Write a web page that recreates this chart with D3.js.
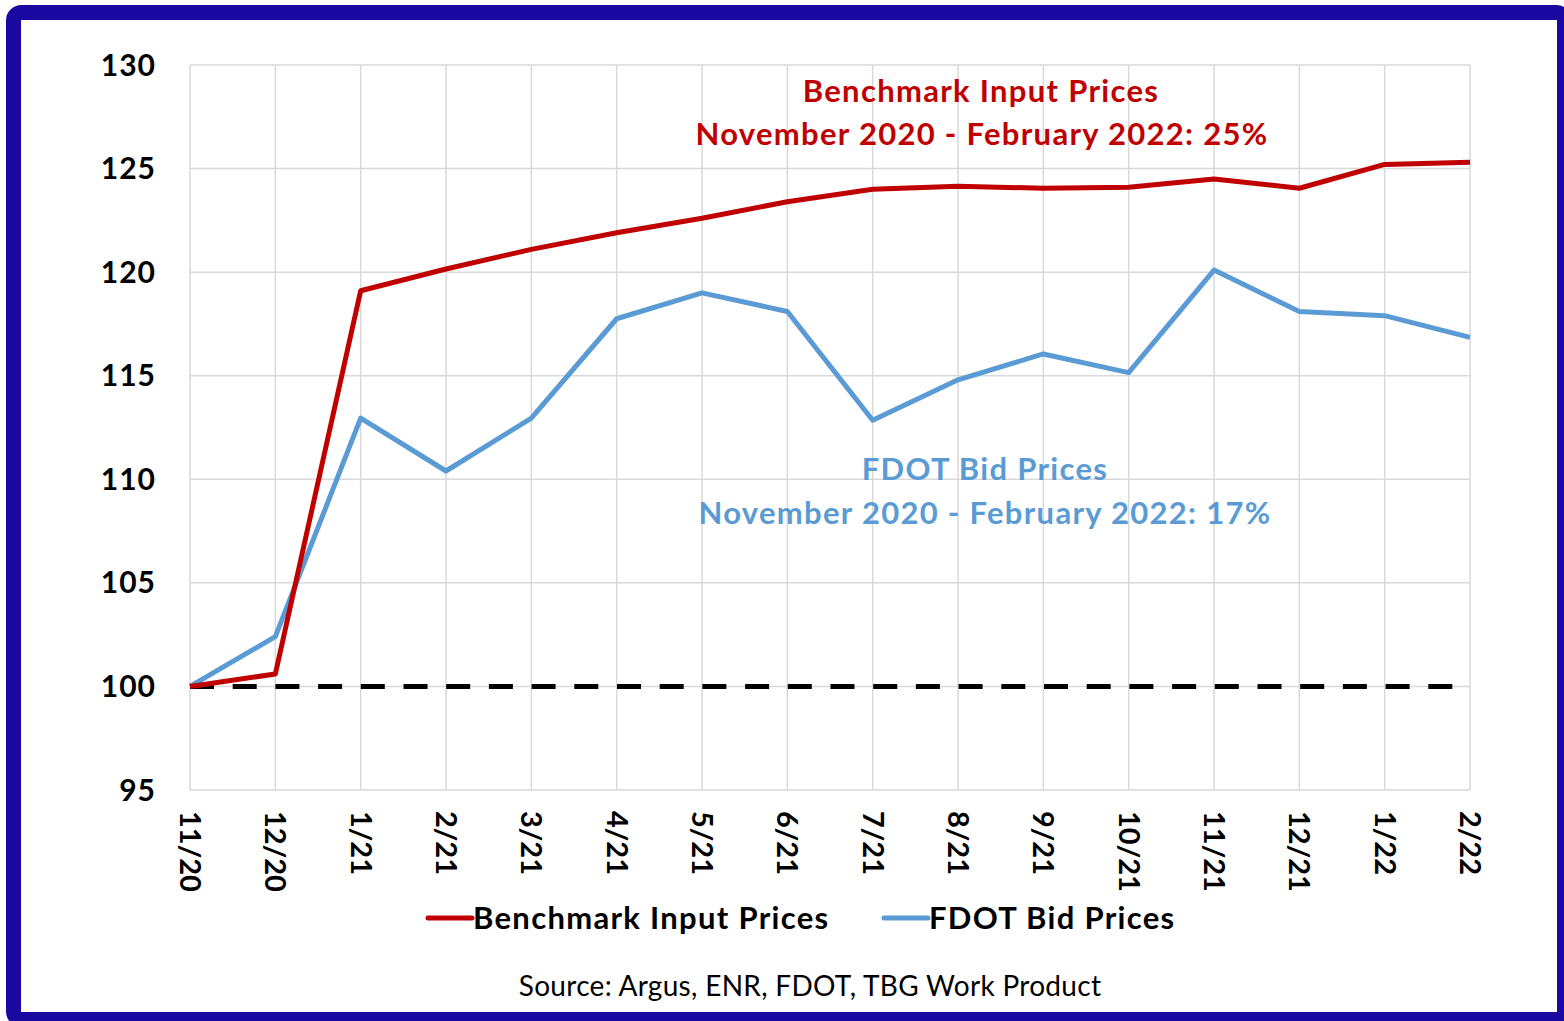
<!DOCTYPE html>
<html>
<head>
<meta charset="utf-8">
<script src="https://cdn.jsdelivr.net/npm/d3@7"></script>
<style>
  html, body { margin: 0; padding: 0; background: #fff; }
  svg { display: block; }
  text { font-family: Lato, "Open Sans", sans-serif; }
</style>
</head>
<body>
<svg id="chart" width="1564" height="1021"></svg>
<script>
// data
var months = ["11/20","12/20","1/21","2/21","3/21","4/21","5/21","6/21","7/21","8/21","9/21","10/21","11/21","12/21","1/22","2/22"];
var benchmark = [100, 100.6, 119.1, 120.15, 121.1, 121.9, 122.6, 123.4, 124.0, 124.15, 124.05, 124.1, 124.5, 124.05, 125.2, 125.3];
var fdot = [100, 102.4, 112.95, 110.4, 112.95, 117.75, 119.0, 118.1, 112.85, 114.8, 116.05, 115.15, 120.1, 118.1, 117.9, 116.85];
var yTicks = [95, 100, 105, 110, 115, 120, 125, 130];
var baseline = 100;

var red = "#c00000", blue = "#5b9bd5";

var svg = d3.select("#chart");

// frame
svg.append("rect")
    .attr("x", 13.5).attr("y", 12.5)
    .attr("width", 1551).attr("height", 1007)
    .attr("rx", 8)
    .attr("fill", "#fff")
    .attr("stroke", "#1a08a0")
    .attr("stroke-width", 15);

var x = d3.scalePoint()
    .domain(months)
    .range([190, 1470]);

var y = d3.scaleLinear()
    .domain([95, 130])
    .range([790, 65]);

// grid
svg.append("g")
  .selectAll("line")
    .data(yTicks)
  .enter().append("line")
    .attr("x1", 190).attr("x2", 1470)
    .attr("y1", function(d) { return y(d); })
    .attr("y2", function(d) { return y(d); })
    .attr("stroke", "#d9d9d9")
    .attr("stroke-width", 1.5);

svg.append("g")
  .selectAll("line")
    .data(months)
  .enter().append("line")
    .attr("x1", function(d) { return x(d); })
    .attr("x2", function(d) { return x(d); })
    .attr("y1", y(130)).attr("y2", y(95))
    .attr("stroke", "#d9d9d9")
    .attr("stroke-width", 1.5);

// y labels
svg.append("g")
  .selectAll("text")
    .data(yTicks)
  .enter().append("text")
    .attr("x", 156)
    .attr("y", function(d) { return y(d); })
    .attr("dy", "0.35em")
    .attr("text-anchor", "end")
    .attr("font-size", 30)
    .attr("font-weight", "bold")
    .attr("letter-spacing", 1)
    .attr("fill", "#000")
    .text(function(d) { return d; });

// x labels, rotated clockwise
svg.append("g")
  .selectAll("text")
    .data(months)
  .enter().append("text")
    .attr("transform", function(d) { return "translate(" + x(d) + ",811) rotate(90)"; })
    .attr("dy", "0.35em")
    .attr("text-anchor", "start")
    .attr("font-size", 29)
    .attr("font-weight", "bold")
    .attr("fill", "#000")
    .text(function(d) { return d; });

// dashed 100 line
svg.append("line")
    .attr("x1", x(months[0])).attr("x2", x(months[months.length - 1]))
    .attr("y1", y(baseline)).attr("y2", y(baseline))
    .attr("stroke", "#000")
    .attr("stroke-width", 5)
    .attr("stroke-dasharray", "24,18.7");

var line = d3.line()
    .x(function(d, i) { return x(months[i]); })
    .y(function(d) { return y(d); });

svg.append("path")
    .datum(fdot)
    .attr("d", line)
    .attr("fill", "none")
    .attr("stroke", blue)
    .attr("stroke-width", 5)
    .attr("stroke-linejoin", "round");

svg.append("path")
    .datum(benchmark)
    .attr("d", line)
    .attr("fill", "none")
    .attr("stroke", red)
    .attr("stroke-width", 5)
    .attr("stroke-linejoin", "round");

// annotations
function note(txt, cx, cy, color) {
  svg.append("text")
      .attr("x", cx).attr("y", cy)
      .attr("dy", "0.35em")
      .attr("text-anchor", "middle")
      .attr("font-size", 31)
      .attr("font-weight", "bold")
      .attr("letter-spacing", 1.3)
      .attr("fill", color)
      .text(txt);
}
note("Benchmark Input Prices", 981, 91, red);
note("November 2020 - February 2022: 25%", 982, 134, red);
note("FDOT Bid Prices", 985, 469, blue);
note("November 2020 - February 2022: 17%", 985, 513, blue);

// legend
var legend = [
  {name: "Benchmark Input Prices", color: red, x: 428},
  {name: "FDOT Bid Prices", color: blue, x: 884}
];
var lg = svg.append("g")
  .selectAll("g")
    .data(legend)
  .enter().append("g")
    .attr("transform", function(d) { return "translate(" + d.x + ",918)"; });
lg.append("line")
    .attr("x1", 0).attr("x2", 44)
    .attr("stroke", function(d) { return d.color; })
    .attr("stroke-width", 5)
    .attr("stroke-linecap", "round");
lg.append("text")
    .attr("x", 45)
    .attr("dy", "0.35em")
    .attr("font-size", 31)
    .attr("font-weight", "bold")
    .attr("letter-spacing", 1.3)
    .attr("fill", "#000")
    .text(function(d) { return d.name; });

svg.append("text")
    .attr("x", 810).attr("y", 986)
    .attr("dy", "0.35em")
    .attr("text-anchor", "middle")
    .attr("font-size", 28)
    .attr("letter-spacing", 0.3)
    .attr("fill", "#000")
    .text("Source: Argus, ENR, FDOT, TBG Work Product");
</script>
</body>
</html>
